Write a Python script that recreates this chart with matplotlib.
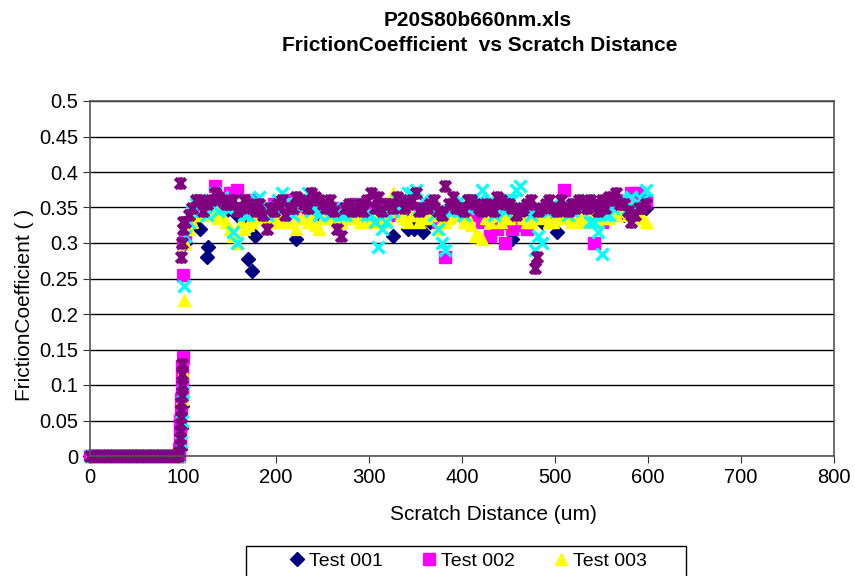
import numpy as np
import matplotlib.pyplot as plt
from matplotlib.path import Path
from matplotlib.patches import Rectangle

plt.rcParams['font.family'] = ['Liberation Sans', 'DejaVu Sans']

# flat part before the tip touches the surface (all tests read 0 here)
pre_dist = [0, 3, 6, 9, 12, 15, 18, 21, 24, 27, 30, 33, 36, 39, 42, 45, 48,
            51, 54, 57, 60, 63, 66, 69, 72, 75, 78, 81, 84, 87, 90, 93, 95]
pre_val = [0, 0, 0, 0, 0, 0, 0, 0, 0, 0, 0, 0, 0, 0, 0, 0, 0,
           0, 0, 0, 0, 0, 0, 0, 0, 0, 0, 0, 0, 0, 0, 0, 0]

# sampling grids of the steady part
grid_a = np.arange(102, 600, 8)   # 102 .. 598
grid_b = np.arange(106, 600, 8)   # 106 .. 594

# Test 001
t1_ramp_d = [97, 98, 99, 127, 170, 177, 348, 356]
t1_ramp_v = [0.01, 0.04, 0.07, 0.295, 0.277, 0.31, 0.32, 0.33]
t1_a = [0.30, 0.33, 0.32, 0.28, 0.35, 0.34, 0.35, 0.34, 0.33, 0.26,
        0.34, 0.34, 0.35, 0.34, 0.345, 0.305, 0.34, 0.35, 0.34, 0.345,
        0.34, 0.33, 0.34, 0.35, 0.34, 0.345, 0.34, 0.35, 0.31, 0.34,
        0.32, 0.325, 0.315, 0.33, 0.34, 0.345, 0.34, 0.35, 0.34, 0.345,
        0.34, 0.35, 0.34, 0.33, 0.305, 0.34, 0.345, 0.34, 0.33, 0.34,
        0.315, 0.345, 0.34, 0.35, 0.34, 0.345, 0.34, 0.35, 0.345, 0.34,
        0.35, 0.345, 0.35]

# Test 002
t2_ramp_d = [95.5, 96, 96.4, 96.8, 97.2, 97.6, 98, 98.4, 98.8, 99.2, 99.6, 100, 100.5]
t2_ramp_v = [0.0, 0.01, 0.02, 0.035, 0.05, 0.065, 0.08, 0.095, 0.11, 0.125, 0.14, 0.255, 0.30]
t2_a = [0.31, 0.34, 0.35, 0.355, 0.38, 0.36, 0.37, 0.375, 0.35, 0.36,
        0.35, 0.345, 0.355, 0.35, 0.36, 0.345, 0.35, 0.355, 0.35, 0.34,
        0.35, 0.345, 0.35, 0.355, 0.35, 0.345, 0.35, 0.355, 0.34, 0.35,
        0.345, 0.35, 0.34, 0.335, 0.33, 0.28, 0.34, 0.35, 0.345, 0.34,
        0.33, 0.31, 0.32, 0.30, 0.32, 0.325, 0.32, 0.34, 0.345, 0.35,
        0.345, 0.375, 0.35, 0.335, 0.34, 0.30, 0.33, 0.35, 0.36, 0.355,
        0.37, 0.37, 0.36]

# Test 003
t3_ramp_d = [98, 99, 99.5, 100, 101, 101.5]
t3_ramp_v = [0.06, 0.08, 0.09, 0.12, 0.22, 0.30]
t3_a = [0.30, 0.33, 0.34, 0.35, 0.35, 0.34, 0.32, 0.30, 0.32, 0.33,
        0.34, 0.335, 0.33, 0.34, 0.33, 0.32, 0.335, 0.34, 0.32, 0.335,
        0.34, 0.33, 0.34, 0.335, 0.34, 0.33, 0.34, 0.335, 0.37, 0.34,
        0.33, 0.34, 0.335, 0.34, 0.32, 0.33, 0.34, 0.345, 0.335, 0.31,
        0.305, 0.33, 0.34, 0.335, 0.34, 0.34, 0.33, 0.335, 0.34, 0.33,
        0.34, 0.335, 0.33, 0.34, 0.33, 0.335, 0.34, 0.335, 0.34, 0.345,
        0.35, 0.34, 0.33]
t3_b = [0.32, 0.34, 0.345, 0.34, 0.335, 0.33, 0.31, 0.33, 0.325, 0.335,
        0.34, 0.33, 0.335, 0.33, 0.34, 0.335, 0.33, 0.325, 0.335, 0.34,
        0.33, 0.335, 0.34, 0.33, 0.335, 0.34, 0.33, 0.345, 0.365, 0.335,
        0.34, 0.33, 0.335, 0.34, 0.33, 0.335, 0.34, 0.33, 0.325, 0.31,
        0.335, 0.34, 0.33, 0.335, 0.34, 0.335, 0.33, 0.34, 0.335, 0.33,
        0.34, 0.335, 0.33, 0.335, 0.34, 0.33, 0.335, 0.34, 0.345, 0.34,
        0.345, 0.335]

# Test 004
t4_ramp_d = [98, 99, 100, 101]
t4_ramp_v = [0.02, 0.05, 0.09, 0.24]
t4_a = [0.31, 0.345, 0.36, 0.34, 0.37, 0.365, 0.35, 0.30, 0.34, 0.35,
        0.365, 0.34, 0.35, 0.37, 0.35, 0.355, 0.365, 0.345, 0.34, 0.355,
        0.35, 0.34, 0.345, 0.35, 0.355, 0.34, 0.295, 0.33, 0.345, 0.35,
        0.37, 0.375, 0.36, 0.35, 0.32, 0.29, 0.345, 0.36, 0.35, 0.355,
        0.375, 0.36, 0.35, 0.345, 0.36, 0.38, 0.35, 0.29, 0.30, 0.345,
        0.35, 0.355, 0.345, 0.35, 0.36, 0.33, 0.285, 0.34, 0.355, 0.36,
        0.365, 0.355, 0.375]
t4_b = [0.33, 0.355, 0.35, 0.36, 0.345, 0.35, 0.315, 0.35, 0.34, 0.36,
        0.35, 0.345, 0.36, 0.355, 0.34, 0.35, 0.37, 0.35, 0.345, 0.34,
        0.35, 0.34, 0.355, 0.345, 0.34, 0.33, 0.32, 0.35, 0.36, 0.355,
        0.37, 0.35, 0.355, 0.34, 0.30, 0.345, 0.35, 0.34, 0.355, 0.36,
        0.35, 0.34, 0.355, 0.36, 0.375, 0.35, 0.34, 0.31, 0.345, 0.355,
        0.35, 0.34, 0.355, 0.35, 0.33, 0.315, 0.34, 0.35, 0.36, 0.35,
        0.355, 0.36]

# Test 005
t5_ramp_d = [96, 96.3, 96.6, 96.9, 97.2, 97.5, 97.8, 98.1, 98.4, 98.7, 99, 99.3,
             97, 98, 99, 99.5, 100, 481]
t5_ramp_v = [0.005, 0.015, 0.025, 0.035, 0.045, 0.055, 0.065, 0.075, 0.085, 0.10, 0.115, 0.13,
             0.385, 0.28, 0.30, 0.32, 0.33, 0.28]
t5_a = [0.33, 0.35, 0.36, 0.355, 0.37, 0.36, 0.355, 0.345, 0.36, 0.35,
        0.355, 0.32, 0.345, 0.36, 0.35, 0.365, 0.355, 0.37, 0.36, 0.35,
        0.345, 0.31, 0.355, 0.35, 0.345, 0.37, 0.365, 0.355, 0.35, 0.36,
        0.355, 0.37, 0.35, 0.355, 0.345, 0.38, 0.365, 0.35, 0.36, 0.355,
        0.345, 0.35, 0.365, 0.355, 0.35, 0.345, 0.355, 0.265, 0.35, 0.36,
        0.345, 0.35, 0.355, 0.36, 0.35, 0.355, 0.36, 0.365, 0.37, 0.355,
        0.33, 0.35, 0.355]
t5_b = [0.34, 0.36, 0.345, 0.36, 0.365, 0.355, 0.36, 0.35, 0.355, 0.345,
        0.34, 0.35, 0.355, 0.34, 0.35, 0.36, 0.35, 0.365, 0.355, 0.36,
        0.32, 0.35, 0.345, 0.355, 0.36, 0.35, 0.345, 0.355, 0.365, 0.35,
        0.36, 0.345, 0.35, 0.36, 0.34, 0.355, 0.35, 0.345, 0.36, 0.35,
        0.355, 0.345, 0.36, 0.355, 0.34, 0.35, 0.36, 0.345, 0.355, 0.35,
        0.36, 0.345, 0.35, 0.355, 0.36, 0.345, 0.35, 0.36, 0.355, 0.345,
        0.34, 0.35]

labels = ['Test 001', 'Test 002', 'Test 003', 'Test 004', 'Test 005']

# Excel style "star": an x with a vertical bar through it
star = Path([(-1, -1), (1, 1), (-1, 1), (1, -1), (0, -1.2), (0, 1.2)],
            [Path.MOVETO, Path.LINETO, Path.MOVETO, Path.LINETO, Path.MOVETO, Path.LINETO])

styles = [
    dict(marker='D', color='#000080', ms=7),
    dict(marker='s', color='#FF00FF', ms=8.5),
    dict(marker='^', color='#FFFF00', ms=9),
    dict(marker='x', color='#00FFFF', ms=8, mew=2.4),
    dict(marker=star, color='#800080', ms=9, mew=3),
]
series = [
    [(t1_ramp_d, t1_ramp_v), (grid_a, t1_a)],
    [(t2_ramp_d, t2_ramp_v), (grid_a, t2_a)],
    [(t3_ramp_d, t3_ramp_v), (grid_a, t3_a), (grid_b, t3_b)],
    [(t4_ramp_d, t4_ramp_v), (grid_a, t4_a), (grid_b, t4_b)],
    [(t5_ramp_d, t5_ramp_v), (grid_a, t5_a), (grid_b, t5_b)],
]

fig = plt.figure(figsize=(8.55, 5.76), dpi=100)
ax = fig.add_axes([90 / 855, 1 - 456 / 576, 744 / 855, 355 / 576])

handles = []
for parts, st, lab in zip(series, styles, labels):
    x = np.concatenate([pre_dist] + [np.asarray(d, float) for d, v in parts])
    y = np.concatenate([pre_val] + [np.asarray(v, float) for d, v in parts])
    h, = ax.plot(x, y, linestyle='none', label=lab, clip_on=False, **st)
    handles.append(h)

ax.set_xlim(0, 800)
ax.set_ylim(0, 0.5)
ax.set_xticks(np.arange(0, 801, 100))
ax.set_yticks(np.arange(0, 0.501, 0.05))
ax.set_yticklabels(['0', '0.05', '0.1', '0.15', '0.2', '0.25', '0.3', '0.35', '0.4', '0.45', '0.5'])
ax.yaxis.grid(True, color='black', linewidth=1)
ax.set_axisbelow(True)
ax.tick_params(labelsize=14.5, length=5, direction='out', colors='#333333', labelcolor='black')
for s in ax.spines.values():
    s.set_color('#555555')
    s.set_linewidth(1.2)

fig.text(390 / 855, 1 - 514 / 576, 'Scratch Distance (um)', ha='left', va='center', fontsize=15)
fig.text(24 / 855, 1 - 305 / 576, 'FrictionCoefficient ( )', rotation=90,
         ha='center', va='center', fontsize=15)

fig.text(478 / 855, 1 - 21 / 576, 'P20S80b660nm.xls', ha='center', va='center',
         fontsize=15, fontweight='bold')
fig.text(480 / 855, 1 - 45.5 / 576, 'FrictionCoefficient  vs Scratch Distance', ha='center',
         va='center', fontsize=15, fontweight='bold')

# legend laid out row by row like Excel: 001 002 003 / 004 005 (second row falls below the edge)
order = [0, 3, 1, 4, 2]
fig.legend([handles[i] for i in order], [labels[i] for i in order], ncol=3,
           loc='upper center', bbox_to_anchor=(468 / 855, 1 - 552 / 576),
           frameon=False, fontsize=14, borderpad=0, borderaxespad=0, labelspacing=1.6,
           handlelength=0.8, handletextpad=0.2, columnspacing=2.0)
fig.add_artist(Rectangle((246 / 855, -0.1), 440 / 855, 0.1 + 1 - 546 / 576,
                         transform=fig.transFigure, fill=False, ec='black', lw=1))

fig.savefig('out.png', dpi=100)
